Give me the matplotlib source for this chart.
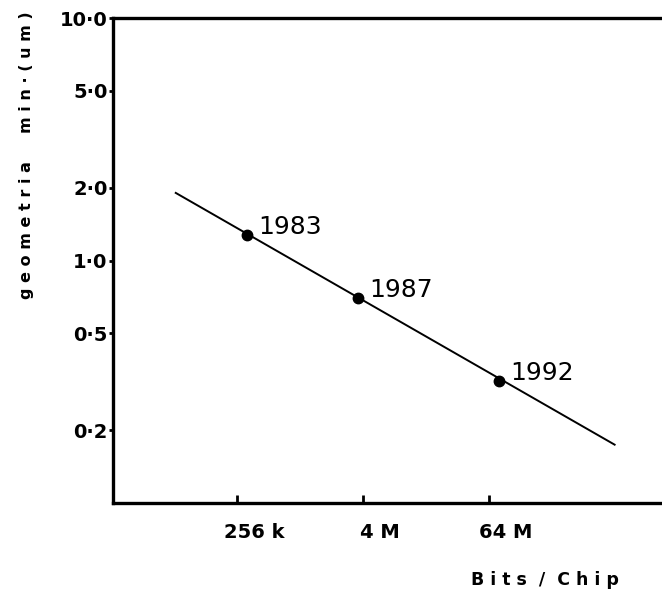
import numpy as np
import matplotlib.pyplot as plt
import matplotlib.transforms as mtransforms
from matplotlib.ticker import FixedLocator, NullLocator

IMAGE_WIDTH = 662
IMAGE_HEIGHT = 592

# data
years = ["1983", "1987", "1992"]
point_bits = [327e3, 3.75e6, 83.8e6]
point_um = [1.28, 0.70, 0.32]
trend_bits = [68e3, 1.07e9]
trend_um = [1.90, 0.174]

x_ticks = [2**18, 2**22, 2**26]
x_labels = ["256 k", "4 M", "64 M"]
y_ticks = [10, 5, 2, 1, 0.5, 0.2]
y_labels = ["10·0", "5·0", "2·0", "1·0", "0·5", "0·2"]

fig = plt.figure(figsize=(IMAGE_WIDTH / 100, IMAGE_HEIGHT / 100), dpi=100)
ax = fig.add_axes([113 / 662, 1 - 503 / 592, (662 - 113) / 662, (503 - 18) / 592])

ax.plot(trend_bits, trend_um, color="black", lw=1.4)
ax.plot(point_bits, point_um, "o", color="black", ms=7.5)
for yr, bx, by in zip(years, point_bits, point_um):
    ax.annotate(yr, (bx, by), xytext=(11, 8), textcoords="offset pixels",
                fontsize=18, va="center", ha="left", family="DejaVu Sans")

ax.set_xscale("log", base=2)
ax.set_yscale("log")
ax.set_xlim(2**14.06, 2**31.5)
ax.set_ylim(0.1, 10)

ax.xaxis.set_major_locator(FixedLocator(x_ticks))
ax.xaxis.set_minor_locator(NullLocator())
ax.set_xticklabels([])
ax.yaxis.set_major_locator(FixedLocator(y_ticks))
ax.yaxis.set_minor_locator(NullLocator())
ax.set_yticklabels(y_labels, fontsize=14, fontweight="bold")

# the printed x labels sit a bit right of their ticks
shift = mtransforms.ScaledTranslation(17 / 100, -30 / 100, fig.dpi_scale_trans)
for xt, lab in zip(x_ticks, x_labels):
    ax.text(xt, 0, lab, transform=ax.get_xaxis_transform() + shift,
            fontsize=14, fontweight="bold", ha="center", va="center")

ax.tick_params(axis="x", direction="in", length=6, width=2)
ax.tick_params(axis="y", direction="out", length=3, width=2, pad=1)

ax.spines["right"].set_visible(False)
for s in ["left", "bottom", "top"]:
    ax.spines[s].set_linewidth(2.4)

fig.text(27 / 662, 1 - 155 / 592, "g e o m e t r i a     m i n · ( u m )",
         rotation=90, fontsize=11.5, fontweight="bold", ha="center", va="center")
fig.text(545 / 662, 1 - 580 / 592, "B i t s  /  C h i p",
         fontsize=12.5, fontweight="bold", ha="center", va="center")

fig.savefig("out.png", dpi=100)
plt.close(fig)
